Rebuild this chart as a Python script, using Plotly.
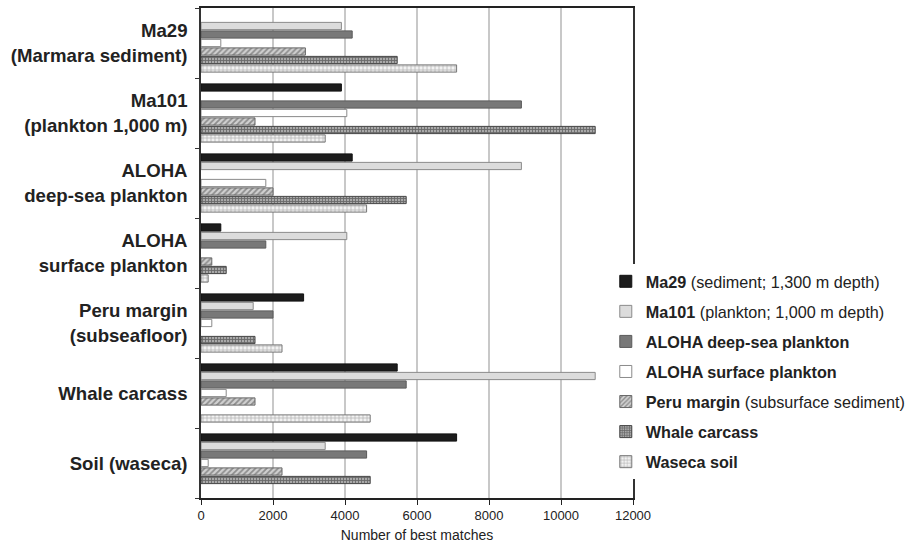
import plotly.graph_objects as go

# Metagenomes being queried (rows, top to bottom)
categories = [
    "Ma29<br>(Marmara sediment)",
    "Ma101<br>(plankton 1,000 m)",
    "ALOHA<br>deep-sea plankton",
    "ALOHA<br>surface plankton",
    "Peru margin<br>(subseafloor)",
    "Whale carcass",
    "Soil (waseca)",
]

# Number of best matches against each reference metagenome (None = self comparison)
ma29 = [None, 3900, 4200, 550, 2850, 5450, 7100]
ma101 = [3900, None, 8900, 4050, 1450, 10950, 3450]
aloha_deep = [4200, 8900, None, 1800, 2000, 5700, 4600]
aloha_surface = [550, 4050, 1800, None, 300, 700, 200]
peru_margin = [2900, 1500, 2000, 300, None, 1500, 2250]
whale_carcass = [5450, 10950, 5700, 700, 1500, None, 4700]
waseca_soil = [7100, 3450, 4600, 200, 2250, 4700, None]

series_names = [
    "<b>Ma29</b> (sediment; 1,300 m depth)",
    "<b>Ma101</b> (plankton; 1,000 m depth)",
    "<b>ALOHA deep-sea plankton</b>",
    "<b>ALOHA surface plankton</b>",
    "<b>Peru margin</b> (subsurface sediment)",
    "<b>Whale carcass</b>",
    "<b>Waseca soil</b>",
]
series_values = [ma29, ma101, aloha_deep, aloha_surface, peru_margin, whale_carcass, waseca_soil]

x_ticks = [0, 2000, 4000, 6000, 8000, 10000, 12000]

styles = [
    dict(color="#1c1c1c", line=dict(color="#111111", width=1)),
    dict(color="#dcdcdc", line=dict(color="#8a8a8a", width=1)),
    dict(color="#787878", line=dict(color="#5a5a5a", width=1)),
    dict(color="#ffffff", line=dict(color="#8a8a8a", width=1)),
    dict(color="#c8c8c8", line=dict(color="#666666", width=1),
         pattern=dict(shape="/", fgcolor="#4a4a4a", bgcolor="#d0d0d0", size=4, solidity=0.45)),
    dict(color="#999999", line=dict(color="#444444", width=1),
         pattern=dict(shape="+", fgcolor="#2a2a2a", bgcolor="#a8a8a8", size=3, solidity=0.5)),
    dict(color="#eeeeee", line=dict(color="#777777", width=1),
         pattern=dict(shape="+", fgcolor="#7a7a7a", bgcolor="#f2f2f2", size=4, solidity=0.35)),
]

fig = go.Figure()
for i, (name, vals, st) in enumerate(zip(series_names, series_values, styles)):
    fig.add_trace(go.Bar(
        y=categories, x=vals, name=name, orientation="h",
        marker=st, legendgroup=f"g{i}",
    ))

font_family = "Liberation Sans, Arial, Helvetica, sans-serif"

fig.update_layout(
    width=911, height=549,
    margin=dict(l=201, r=278, t=8, b=51, autoexpand=False),
    paper_bgcolor="white", plot_bgcolor="white",
    barmode="group", bargap=0.15, bargroupgap=0.15,
    font=dict(family=font_family, color="#222222"),
    showlegend=True,
    legend=dict(
        x=0.937, y=0.477, xanchor="left", yanchor="top",
        bgcolor="white", borderwidth=0,
        font=dict(size=16.2, color="#222222", family=font_family),
        tracegroupgap=6, traceorder="grouped",
    ),
    xaxis=dict(
        range=[0, 12000], tickvals=x_ticks, ticktext=[str(v) for v in x_ticks],
        showgrid=True, gridcolor="#c8c8c8", gridwidth=2,
        showline=True, linecolor="#222222", linewidth=1.5, mirror=True,
        ticks="outside", ticklen=5, tickcolor="#222222",
        tickfont=dict(size=13, color="#222222"),
        title=dict(text="Number of best matches", font=dict(size=14, color="#222222"), standoff=8),
        zeroline=False,
    ),
    yaxis=dict(
        type="category", categoryorder="array", categoryarray=categories,
        autorange="reversed", tickson="boundaries",
        showgrid=False, showline=True, linecolor="#333333", linewidth=1.5, mirror=True,
        ticks="outside", ticklen=4, tickcolor="#333333",
        tickfont=dict(size=18.6, color="#222222", family=font_family),
        ticklabelstandoff=8,
    ),
)

# Bold category labels
fig.update_yaxes(ticktext=[f"<b>{c.replace('<br>', '</b><br><b>')}</b>" for c in categories],
                 tickvals=categories)

fig.write_html("out.html")
